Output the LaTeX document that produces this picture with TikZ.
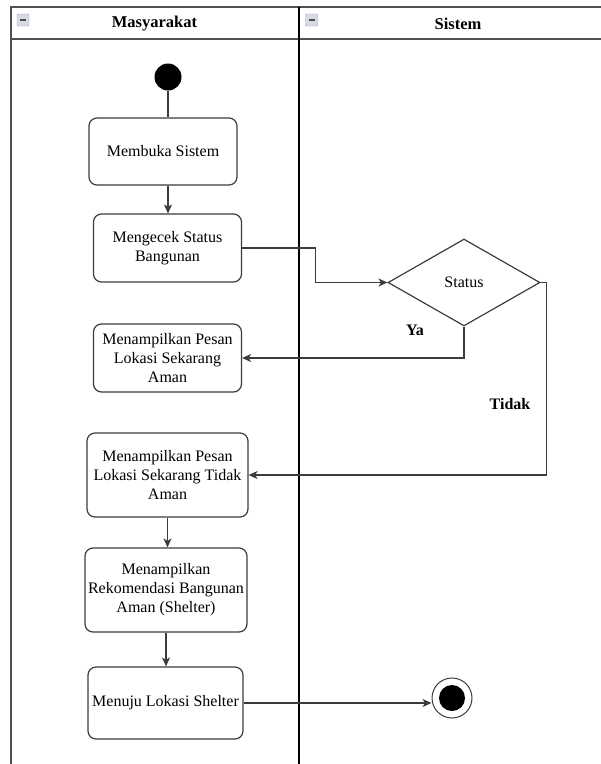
\documentclass[tikz,border=0pt]{standalone}
\usepackage{fontspec}
\setmainfont{Liberation Serif}
\usepackage{tikz}
\usetikzlibrary{arrows.meta}
\usetikzlibrary{shapes.geometric}
\definecolor{framegray}{RGB}{80,80,80}
\definecolor{linegray}{RGB}{60,60,60}
\definecolor{iconfill}{RGB}{215,220,228}
\definecolor{iconedge}{RGB}{150,160,180}
\newcommand{\textsize}{\fontsize{16}{19}\selectfont}
\newcommand{\headsize}{\fontsize{16.5}{19}\selectfont}
\tikzset{
    common/.style={font=\textsize, align=center, inner sep=0pt, text=black},
    action/.style={common, draw=linegray, line width=1.2pt, rounded corners=8pt},
    decision/.style={common, draw=linegray, line width=1.2pt, diamond, minimum width=152pt, minimum height=87pt},
    lanehead/.style={common, font=\headsize\bfseries},
    guard/.style={common, font=\textsize\bfseries},
    initial/.style={circle, fill=black, minimum size=27pt, inner sep=0pt},
    final/.style={circle, draw=linegray, line width=1pt, minimum size=40pt, inner sep=0pt,
        path picture={\fill[black] (path picture bounding box.center) circle (13pt);}},
    icon/.style={draw=iconedge, fill=iconfill, rounded corners=1pt, minimum size=12pt, inner sep=0pt,
        path picture={\draw[black!70, line width=1.5pt] ([xshift=-3pt]path picture bounding box.center) -- ([xshift=3pt]path picture bounding box.center);}},
    flow/.style={draw=linegray, line width=1.2pt, -{Stealth[length=9pt, width=8pt, inset=2.5pt]}},
    plain/.style={draw=linegray, line width=1.2pt}
}

\begin{document}
\begin{tikzpicture}[x=1pt, y=-1pt]
          \useasboundingbox (0,0) rectangle (601,764);

          % swimlanes
          \draw[framegray, line width=1.8pt] (11,764) -- (11,7) -- (601,7) (11,39) -- (601,39);
          \draw[black, line width=2pt] (299,7) -- (299,764);

          \node[icon] (icon-m) at (23,20) {};
          \node[icon] (icon-s) at (311.5,20) {};
          \node[lanehead] (lane-m) at (154.5,24) {Masyarakat};
          \node[lanehead] (lane-s) at (458,24) {Sistem};

          % Masyarakat
          \node[initial] (start) at (168,77) {};
          \node[action, minimum width=148pt, minimum height=67pt] (buka) at (163,151.5) {Membuka Sistem};
          \node[action, minimum width=148pt, minimum height=68pt] (cek) at (167.5,248) {Mengecek Status\\Bangunan};
          \node[action, minimum width=148pt, minimum height=68pt] (aman) at (167.5,358) {Menampilkan Pesan\\Lokasi Sekarang\\Aman};
          \node[action, minimum width=161pt, minimum height=84pt] (tidak-aman) at (167.5,475) {Menampilkan Pesan\\Lokasi Sekarang Tidak\\Aman};
          \node[action, minimum width=162pt, minimum height=84pt] (rekomendasi) at (166,590) {Menampilkan\\Rekomendasi Bangunan\\Aman (Shelter)};
          \node[action, minimum width=155pt, minimum height=72pt] (menuju) at (165.5,703) {Menuju Lokasi Shelter};

          % Sistem
          \node[decision] (status) at (464,282.5) {Status};
          \node[final] (end) at (452,698) {};

          \node[guard] (ya) at (415,330) {Ya};
          \node[guard] (tidak) at (510,404) {Tidak};

          \draw[plain] (start) -- (start |- buka.north);
          \draw[flow] (start |- buka.south) -- (start |- cek.north);
          \draw[flow] (cek.east) -- ([xshift=73pt]cek.east) |- (status.west);
          \draw[flow] (status.south) |- (aman.east);
          \draw[flow] (status.east) -- ([xshift=6pt]status.east) |- (tidak-aman.east);
          \draw[flow] (tidak-aman.south) -- (tidak-aman.south |- rekomendasi.north);
          \draw[flow] (rekomendasi.south) -- (rekomendasi.south |- menuju.north);
          \draw[flow] (menuju.east) -- (end.west |- menuju.east);
        \end{tikzpicture}
\end{document}
